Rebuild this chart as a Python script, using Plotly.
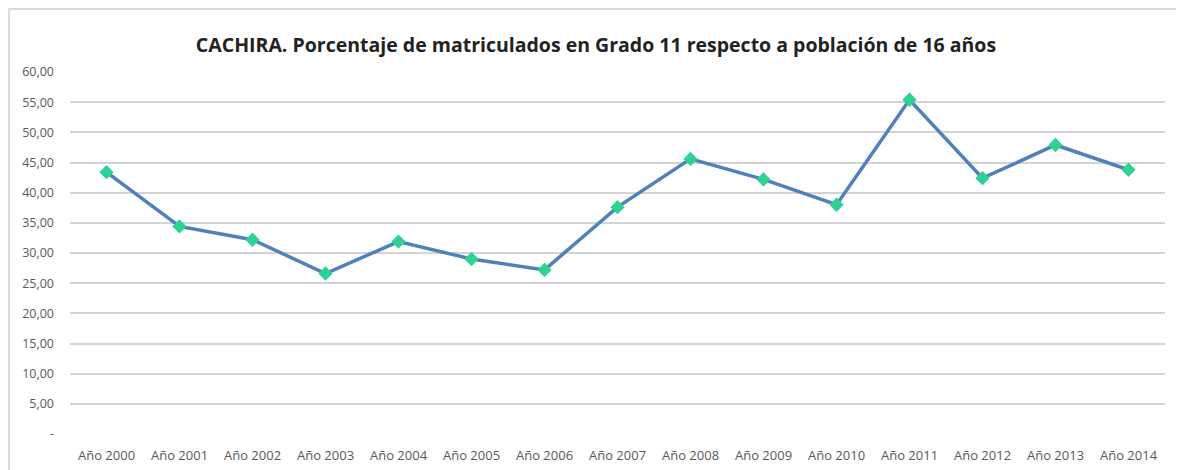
import plotly.graph_objects as go

categories = ["Año 2000", "Año 2001", "Año 2002", "Año 2003", "Año 2004", "Año 2005",
              "Año 2006", "Año 2007", "Año 2008", "Año 2009", "Año 2010", "Año 2011",
              "Año 2012", "Año 2013", "Año 2014"]
values = [43.4, 34.4, 32.2, 26.6, 31.9, 29.0, 27.2, 37.6, 45.6, 42.2, 38.0, 55.4, 42.4, 47.9, 43.8]
tick_vals = [0, 5, 10, 15, 20, 25, 30, 35, 40, 45, 50, 55, 60]
tick_text = ["-", "5,00", "10,00", "15,00", "20,00", "25,00", "30,00", "35,00",
             "40,00", "45,00", "50,00", "55,00", "60,00"]
title_text = "CACHIRA. Porcentaje de matriculados en Grado 11 respecto a población de 16 años"

fig = go.Figure()
fig.add_trace(go.Scatter(
    x=categories, y=values, mode="lines+markers",
    line=dict(color="#4F81BD", width=3.5),
    marker=dict(symbol="diamond", size=11, color="#2ED394", line=dict(width=0)),
    showlegend=False, hoverinfo="x+y",
))

# page body has an 8px margin; compensate so the chart lands where the reference has it
W, H = 1176, 462
L, R, T, B = 62, 19, 64, 36
PW, PH = W - L - R, H - T - B
fig.update_layout(
    width=W, height=H,
    margin=dict(l=L, r=R, t=T, b=B),
    paper_bgcolor="white", plot_bgcolor="white",
    title=dict(text=title_text, x=0.5, xanchor="center", y=1 - 37 / H, yanchor="middle",
               font=dict(family="Open Sans", size=19.5, color="#222222", weight="bold")),
    xaxis=dict(type="category", showgrid=False, zeroline=False, showline=False,
               ticks="", ticklabelstandoff=12, automargin=False,
               tickfont=dict(family="Open Sans", size=13, color="#595959"),
               range=[-0.5, len(categories) - 0.5]),
    yaxis=dict(range=[0, 60], tickvals=tick_vals, ticktext=tick_text,
               showgrid=True, gridcolor="#D4D4D4", gridwidth=1.5, zeroline=False,
               showline=False, ticks="", ticklabelstandoff=15, automargin=False,
               tickfont=dict(family="Open Sans", size=12.5, color="#595959")),
    shapes=[dict(type="rect", xref="paper", yref="paper",
                 x0=(1 - L) / PW, x1=(W - 3 - L) / PW,
                 y0=(PH + T - H - 10) / PH, y1=(PH + T - 1) / PH,
                 line=dict(color="#D0D0D0", width=1.5), fillcolor="rgba(0,0,0,0)",
                 layer="below")],
)

fig.write_html("out.html")
